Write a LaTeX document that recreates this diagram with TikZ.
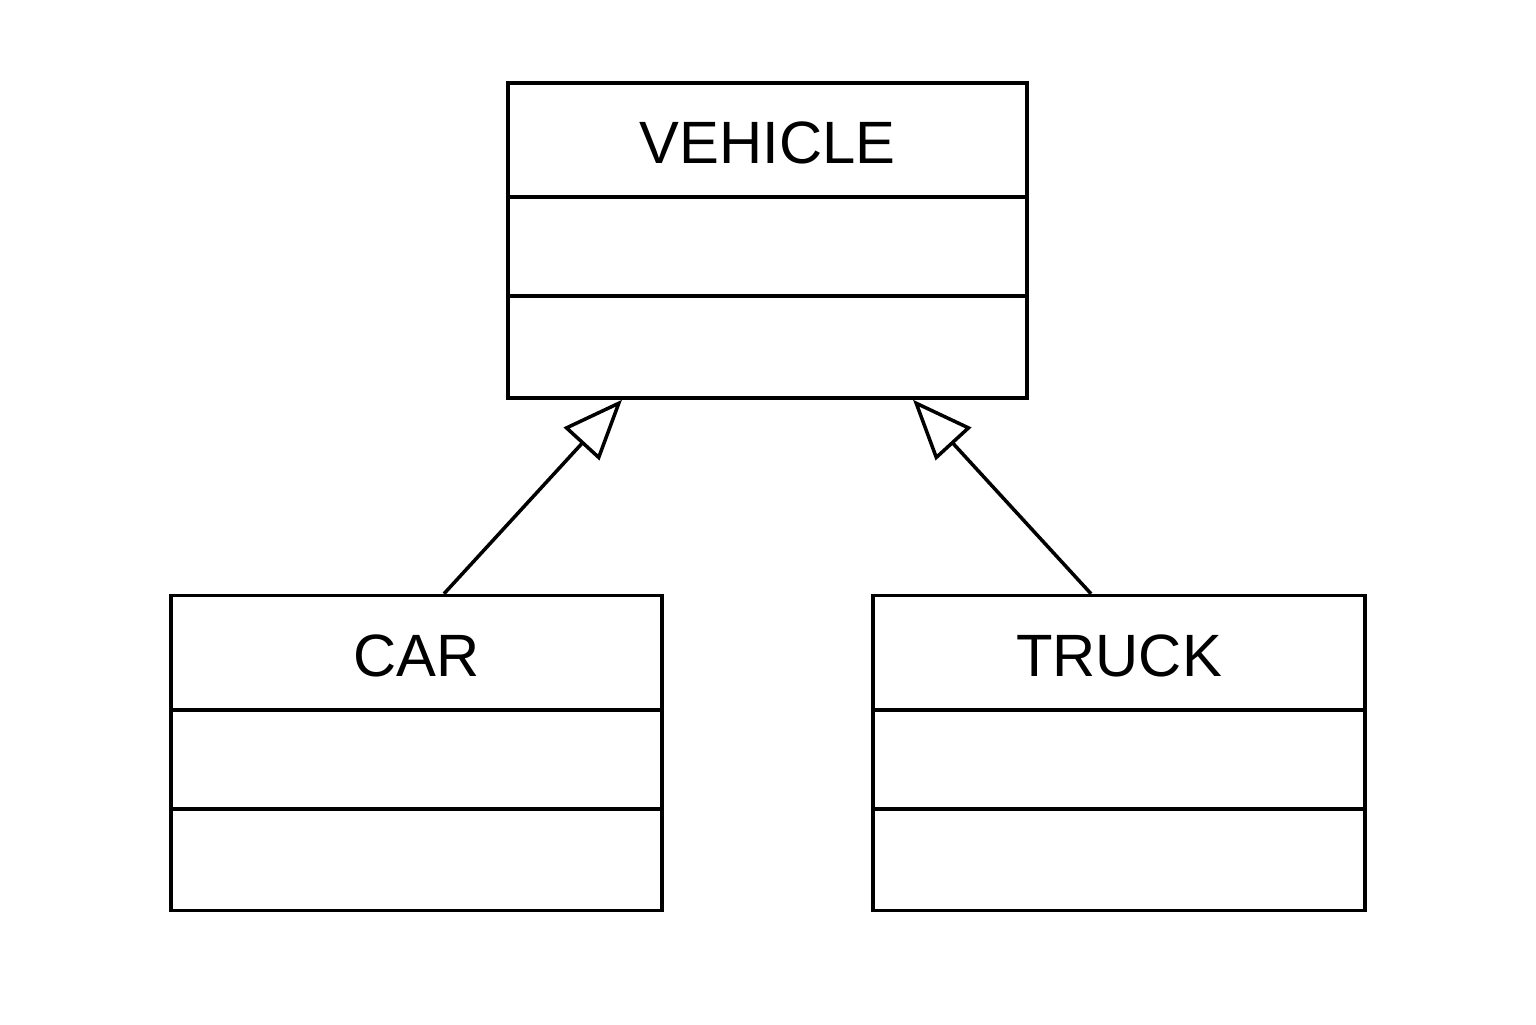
\documentclass[tikz,border=0pt]{standalone}
\usepackage{fontspec}
\setmainfont{Liberation Sans}
\usetikzlibrary{arrows.meta, positioning, calc}

\tikzset{
  classbox/.style={draw, line width=1pt, minimum width=#1, minimum height=3.15cm, inner sep=0pt},
  classname/.style={font=\fontsize{17}{20}\selectfont},
  inherit/.style={draw, line width=1pt, -{Triangle[open, length=0.6cm, width=0.48cm]}},
}

\begin{document}
\begin{tikzpicture}[]

\useasboundingbox (0,0) rectangle (15.36,10.24);

\node [classbox=5.19cm] (vehicle) at (7.675,7.835) {};
\node [classbox=4.91cm] (car)     at (4.165,2.71)  {};
\node [classbox=4.92cm] (truck)   at (11.19,2.71)  {};

\node [classname, below=0.62cm of vehicle.north, anchor=center] (vehiclename) {VEHICLE};
\node [classname, below=0.62cm of car.north    , anchor=center] (carname)     {CAR};
\node [classname, below=0.62cm of truck.north  , anchor=center] (truckname)   {TRUCK};

% compartments
\foreach \cls in {vehicle, car, truck} {
  \draw [line width=1pt] ($(\cls.north west)+(0,-1.16)$) -- ($(\cls.north east)+(0,-1.16)$);
  \draw [line width=1pt] ($(\cls.north west)+(0,-2.15)$) -- ($(\cls.north east)+(0,-2.15)$);
}

\coordinate (carup)   at ($(car.north)+(0.275,0)$);
\coordinate (truckup) at ($(truck.north)+(-0.28,0)$);
\coordinate (vleft)   at ($(vehicle.south)+(-1.455,0)$);
\coordinate (vright)  at ($(vehicle.south)+(1.455,0)$);

\path [inherit] (carup)   -- (vleft);
\path [inherit] (truckup) -- (vright);

\end{tikzpicture}
\end{document}
